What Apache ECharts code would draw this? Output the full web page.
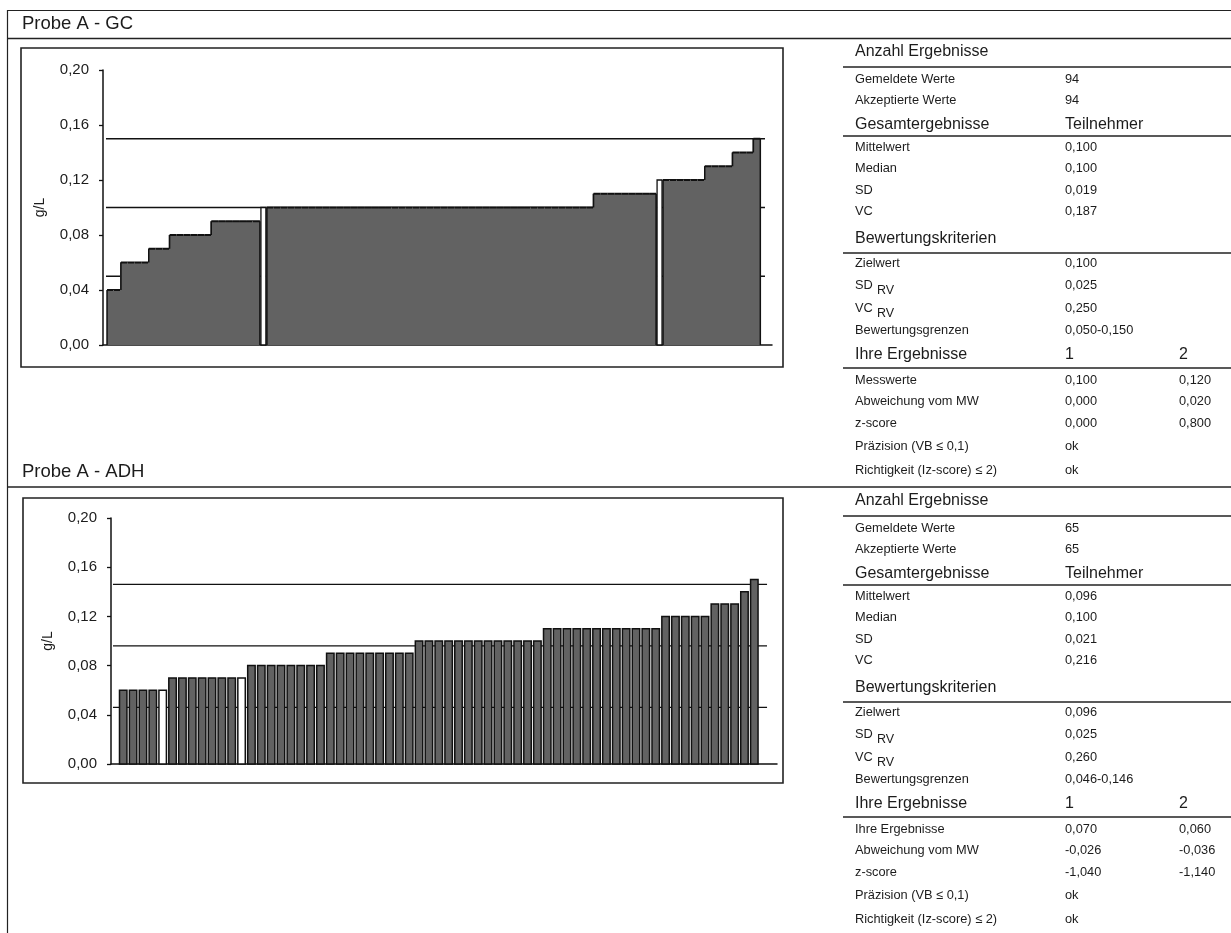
<!DOCTYPE html>
<html>
<head>
<meta charset="utf-8">
<script src="https://cdn.jsdelivr.net/npm/echarts@6/dist/echarts.min.js"></script>
<style>
  html, body { margin: 0; padding: 0; background: #fff; }
  #chart { width: 1231px; height: 933px; }
</style>
</head>
<body>
<div id="chart"></div>
<script>
// sorted participant results (g/L), one bar per result
const gcValues = [
  0.04, 0.04,
  0.06, 0.06, 0.06, 0.06,
  0.07, 0.07, 0.07,
  0.08, 0.08, 0.08, 0.08, 0.08, 0.08,
  0.09, 0.09, 0.09, 0.09, 0.09, 0.09, 0.09,
  0.10, 0.10, 0.10, 0.10, 0.10, 0.10, 0.10, 0.10, 0.10, 0.10, 0.10, 0.10,
  0.10, 0.10, 0.10, 0.10, 0.10, 0.10, 0.10, 0.10, 0.10, 0.10, 0.10, 0.10,
  0.10, 0.10, 0.10, 0.10, 0.10, 0.10, 0.10, 0.10, 0.10, 0.10, 0.10, 0.10,
  0.10, 0.10, 0.10, 0.10, 0.10, 0.10, 0.10, 0.10, 0.10, 0.10, 0.10, 0.10,
  0.11, 0.11, 0.11, 0.11, 0.11, 0.11, 0.11, 0.11, 0.11,
  0.12, 0.12, 0.12, 0.12, 0.12, 0.12, 0.12,
  0.13, 0.13, 0.13, 0.13,
  0.14, 0.14, 0.14,
  0.15
];
const adhValues = [
  0.06, 0.06, 0.06, 0.06, 0.06,
  0.07, 0.07, 0.07, 0.07, 0.07, 0.07, 0.07, 0.07,
  0.08, 0.08, 0.08, 0.08, 0.08, 0.08, 0.08, 0.08,
  0.09, 0.09, 0.09, 0.09, 0.09, 0.09, 0.09, 0.09, 0.09,
  0.10, 0.10, 0.10, 0.10, 0.10, 0.10, 0.10, 0.10, 0.10, 0.10, 0.10, 0.10, 0.10,
  0.11, 0.11, 0.11, 0.11, 0.11, 0.11, 0.11, 0.11, 0.11, 0.11, 0.11, 0.11,
  0.12, 0.12, 0.12, 0.12, 0.12,
  0.13, 0.13, 0.13,
  0.14,
  0.15
];
// the lab's own results (index into the sorted lists)
const gcOwn = [22, 79];
const adhOwn = [4, 12];
// lower limit, target, upper limit
const gcLimits = [0.05, 0.10, 0.15];
const adhLimits = [0.046, 0.096, 0.146];

const yMin = 0, yMax = 0.2, yStep = 0.04;
const unit = "g/L";

const gcTitle = "Probe A - GC";
const adhTitle = "Probe A - ADH";

// table rows: [label, col1, col2]; "|" marks a subscript
const gcRows = [
  ["Anzahl Ergebnisse"],
  ["Gemeldete Werte", "94"],
  ["Akzeptierte Werte", "94"],
  ["Gesamtergebnisse", "Teilnehmer"],
  ["Mittelwert", "0,100"],
  ["Median", "0,100"],
  ["SD", "0,019"],
  ["VC", "0,187"],
  ["Bewertungskriterien"],
  ["Zielwert", "0,100"],
  ["SD|RV", "0,025"],
  ["VC|RV", "0,250"],
  ["Bewertungsgrenzen", "0,050-0,150"],
  ["Ihre Ergebnisse", "1", "2"],
  ["Messwerte", "0,100", "0,120"],
  ["Abweichung vom MW", "0,000", "0,020"],
  ["z-score", "0,000", "0,800"],
  ["Präzision (VB ≤ 0,1)", "ok"],
  ["Richtigkeit (Iz-score) ≤ 2)", "ok"]
];
const adhRows = [
  ["Anzahl Ergebnisse"],
  ["Gemeldete Werte", "65"],
  ["Akzeptierte Werte", "65"],
  ["Gesamtergebnisse", "Teilnehmer"],
  ["Mittelwert", "0,096"],
  ["Median", "0,100"],
  ["SD", "0,021"],
  ["VC", "0,216"],
  ["Bewertungskriterien"],
  ["Zielwert", "0,096"],
  ["SD|RV", "0,025"],
  ["VC|RV", "0,260"],
  ["Bewertungsgrenzen", "0,046-0,146"],
  ["Ihre Ergebnisse", "1", "2"],
  ["Ihre Ergebnisse", "0,070", "0,060"],
  ["Abweichung vom MW", "-0,026", "-0,036"],
  ["z-score", "-1,040", "-1,140"],
  ["Präzision (VB ≤ 0,1)", "ok"],
  ["Richtigkeit (Iz-score) ≤ 2)", "ok"]
];
const headerRows = [0, 3, 8, 13];

// layout
const FONT = "'Liberation Sans', Arial, sans-serif";
const INK = "#1c1c1c";
const BAR = "#626262";
const rowOffsets = [13.5, 41, 62.5, 86.5, 109, 130.5, 152, 173, 201, 225.5, 247, 270, 292, 317, 342, 363.5, 385, 408.5, 432];
const headerLineOffsets = [29, 98, 215, 330];

const chart = echarts.init(document.getElementById("chart"));

function fmt(v) {
  return v.toFixed(2).replace(".", ",");
}

// GC: neighbouring bars melt together, only the outline of the steps is drawn
function mergedBars(values, own) {
  return function (params, api) {
    const i = api.value(0);
    const v = api.value(1);
    const tl = api.coord([i - 0.5, v]);
    const br = api.coord([i + 0.5, 0]);
    const children = [];
    if (own.indexOf(i) >= 0) {
      children.push({
        type: "rect",
        shape: { x: tl[0] + 1, y: tl[1], width: br[0] - tl[0] - 2, height: br[1] - tl[1] },
        style: { fill: "#fff", stroke: "#111", lineWidth: 1.3 }
      });
      return { type: "group", children: children };
    }
    const x0 = Math.floor(tl[0]);
    const x1 = Math.ceil(br[0]);
    children.push({
      type: "rect",
      shape: { x: x0, y: tl[1], width: x1 - x0, height: br[1] - tl[1] },
      style: { fill: BAR }
    });
    children.push({
      type: "line",
      shape: { x1: tl[0], y1: tl[1], x2: br[0], y2: tl[1] },
      style: { stroke: "#111", lineWidth: 2 }
    });
    const prev = i > 0 && own.indexOf(i - 1) < 0 ? values[i - 1] : 0;
    if (prev !== v) {
      const py = api.coord([i - 0.5, prev])[1];
      children.push({
        type: "line",
        shape: { x1: tl[0], y1: py, x2: tl[0], y2: tl[1] },
        style: { stroke: "#111", lineWidth: 1.5 }
      });
    }
    const next = i < values.length - 1 && own.indexOf(i + 1) < 0 ? values[i + 1] : 0;
    if (next !== v) {
      const ny = api.coord([i + 0.5, next])[1];
      children.push({
        type: "line",
        shape: { x1: br[0], y1: ny, x2: br[0], y2: tl[1] },
        style: { stroke: "#111", lineWidth: 1.5 }
      });
    }
    return { type: "group", children: children };
  };
}

// ADH: each bar stands on its own with a thin gap
function gappedBars(own) {
  return function (params, api) {
    const i = api.value(0);
    const v = api.value(1);
    const tl = api.coord([i - 0.5, v]);
    const br = api.coord([i + 0.5, 0]);
    return {
      type: "rect",
      shape: { x: tl[0] + 1.2, y: tl[1], width: br[0] - tl[0] - 2.4, height: br[1] - tl[1] },
      style: { fill: own.indexOf(i) >= 0 ? "#fff" : BAR, stroke: "#111", lineWidth: 1.5 }
    };
  };
}

function limitSeries(limits, idx, x0, x1) {
  return limits.map(function (l) {
    return {
      type: "line",
      xAxisIndex: idx,
      yAxisIndex: idx,
      data: [[x0, l], [x1, l]],
      symbol: "none",
      silent: true,
      z: 1,
      lineStyle: { color: "#111", width: 1.3 }
    };
  });
}

function xAxisFor(idx, min, max) {
  return {
    gridIndex: idx,
    type: "value",
    min: min,
    max: max,
    axisLine: { show: true, onZero: false, lineStyle: { color: "#111", width: 1.5 } },
    axisTick: { show: false },
    axisLabel: { show: false },
    splitLine: { show: false }
  };
}

function yAxisFor(idx) {
  return {
    gridIndex: idx,
    type: "value",
    min: yMin,
    max: yMax,
    interval: yStep,
    name: unit,
    nameLocation: "middle",
    nameRotate: 90,
    nameGap: 56,
    nameTextStyle: { fontFamily: FONT, fontSize: 14, color: INK },
    axisLine: { show: true, onZero: false, lineStyle: { color: "#111", width: 1.5 } },
    axisTick: { show: true, inside: false, length: 4, lineStyle: { color: "#111", width: 1.3 } },
    axisLabel: {
      margin: 14,
      fontFamily: FONT,
      fontSize: 15,
      color: INK,
      formatter: fmt
    },
    splitLine: { show: false }
  };
}

function text(x, y, str, size, align) {
  return {
    type: "text",
    silent: true,
    style: {
      x: x, y: y, text: str,
      fill: INK,
      font: size + "px " + FONT,
      textAlign: align || "left",
      textVerticalAlign: "middle",
      verticalAlign: "middle"
    }
  };
}

function hline(x1, x2, y, w) {
  return {
    type: "line", silent: true,
    shape: { x1: x1, y1: y, x2: x2, y2: y },
    style: { stroke: "#222", lineWidth: w || 1.3 }
  };
}

function tableGraphics(rows, top) {
  const out = [];
  rows.forEach(function (row, r) {
    const y = top + rowOffsets[r];
    const head = headerRows.indexOf(r) >= 0;
    const size = head ? 16 : 12.8;
    const parts = row[0].split("|");
    out.push(text(855, y, parts[0], size));
    if (parts[1]) {
      out.push(text(877, y + 6, parts[1], 12.5));
    }
    if (row[1]) out.push(text(1065, y, row[1], size));
    if (row[2]) out.push(text(1179, y, row[2], size));
  });
  headerLineOffsets.forEach(function (o) {
    out.push(hline(843, 1231, top + o, 1.3));
  });
  return out;
}

const graphics = [
  // page frame
  hline(7, 1231, 10.5, 1.2),
  { type: "line", silent: true, shape: { x1: 7.5, y1: 10, x2: 7.5, y2: 933 }, style: { stroke: "#222", lineWidth: 1.2 } },
  hline(7, 1231, 38.5, 1.6),
  hline(7, 1231, 487, 1.6),
  text(22, 24, gcTitle, 18.5),
  text(22, 472, adhTitle, 18.5),
  // chart frames
  { type: "rect", silent: true, z: -1, shape: { x: 21, y: 48, width: 762, height: 319 }, style: { fill: "none", stroke: "#222", lineWidth: 1.6 } },
  { type: "rect", silent: true, z: -1, shape: { x: 23, y: 498, width: 760, height: 285 }, style: { fill: "none", stroke: "#222", lineWidth: 1.6 } }
].concat(tableGraphics(gcRows, 38), tableGraphics(adhRows, 487));

const option = {
  animation: false,
  backgroundColor: "#fff",
  textStyle: { fontFamily: FONT },
  grid: [
    { left: 103, top: 70, width: 669, height: 275 },
    { left: 111, top: 518, width: 666, height: 246 }
  ],
  xAxis: [xAxisFor(0, -1.08, 95.18), xAxisFor(1, -1.24, 66.3)],
  yAxis: [yAxisFor(0), yAxisFor(1)],
  graphic: graphics,
  series: [].concat(
    limitSeries(gcLimits, 0, -0.65, 94.17),
    limitSeries(adhLimits, 1, -1.04, 65.29),
    [
      {
        type: "custom",
        xAxisIndex: 0,
        yAxisIndex: 0,
        z: 3,
        silent: true,
        renderItem: mergedBars(gcValues, gcOwn),
        encode: { x: 0, y: 1 },
        data: gcValues.map(function (v, i) { return [i, v]; })
      },
      {
        type: "custom",
        xAxisIndex: 1,
        yAxisIndex: 1,
        z: 3,
        silent: true,
        renderItem: gappedBars(adhOwn),
        encode: { x: 0, y: 1 },
        data: adhValues.map(function (v, i) { return [i, v]; })
      }
    ]
  )
};

chart.setOption(option);
</script>
</body>
</html>
